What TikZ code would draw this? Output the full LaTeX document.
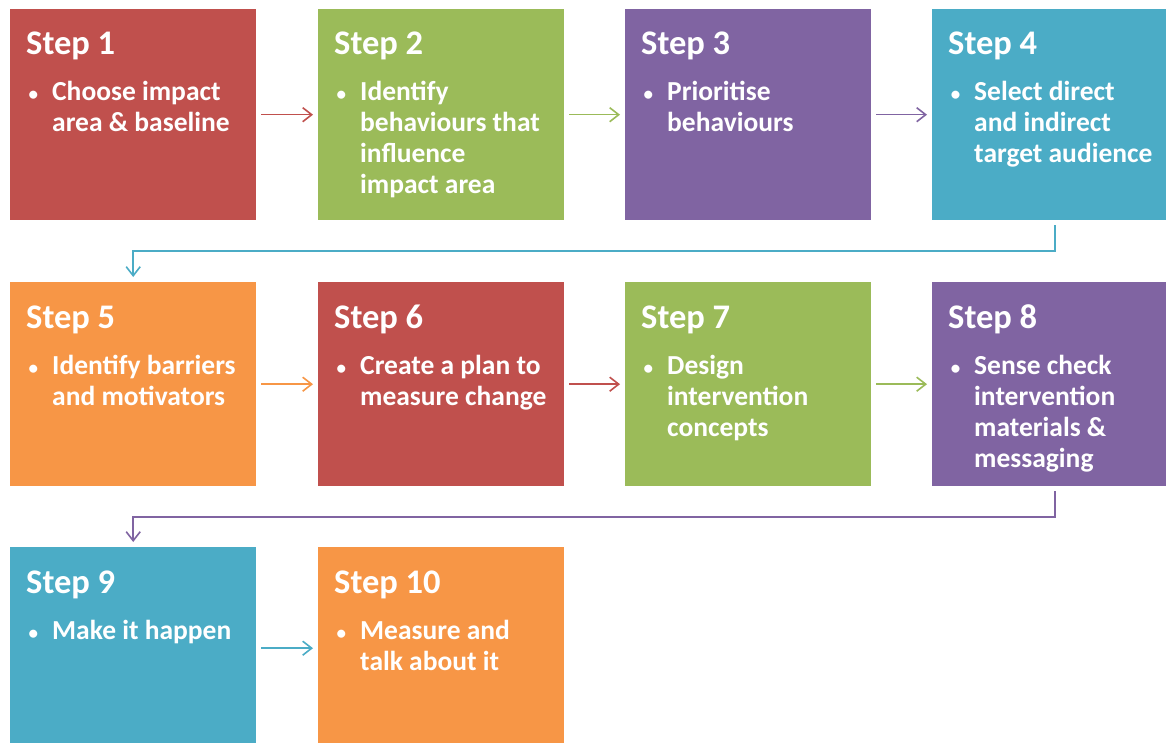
\documentclass[tikz,border=0pt]{standalone}
\usepackage{fontspec}
\setmainfont{Carlito}
\usetikzlibrary{arrows.meta,calc}

\definecolor{rojo}{HTML}{C0504D}
\definecolor{verde}{HTML}{9BBB59}
\definecolor{morado}{HTML}{8064A2}
\definecolor{azul}{HTML}{4BACC6}
\definecolor{naranja}{HTML}{F79646}

\tikzset{
	caja/.style={anchor=north west, minimum width=246pt, minimum height=211pt, inner sep=0pt},
	titulo/.style={anchor=base west, inner sep=0pt, text=white, font=\fontsize{34.5}{40}\selectfont\bfseries},
	texto/.style={anchor=base west, inner sep=0pt, text=white, font=\fontsize{27.5}{31}\selectfont\bfseries},
	flecha/.style={line width=1.6pt, -{Straight Barb[length=9pt,width=14pt]}, shorten <=5pt, shorten >=5pt},
}
%vineta y renglones
\newcommand{\punto}{\llap{{\fontsize{19}{19}\selectfont\textbullet}\hspace{14pt}}}
\newcommand{\renglones}[1]{\begin{tabular}[t]{@{}l@{}}#1\end{tabular}}

\begin{document}
\begin{tikzpicture}[x=1pt,y=-1pt]
		\clip (0,0) rectangle (1166,743);
		\fill[white] (0,0) rectangle (1166,743);
		%cajas
		\node[caja, fill=rojo] at (10,9) (paso1) {};
		\node[caja, fill=verde] at (318,9) (paso2) {};
		\node[caja, fill=morado] at (625,9) (paso3) {};
		\node[caja, fill=azul] at (932,9) (paso4) {};
		\node[caja, fill=naranja, minimum height=204pt] at (10,282) (paso5) {};
		\node[caja, fill=rojo, minimum height=204pt] at (318,282) (paso6) {};
		\node[caja, fill=verde, minimum height=204pt] at (625,282) (paso7) {};
		\node[caja, fill=morado, minimum height=204pt] at (932,282) (paso8) {};
		\node[caja, fill=azul, minimum height=202pt] at (10,547) (paso9) {};
		\node[caja, fill=naranja, minimum height=202pt] at (318,547) (paso10) {};

		%titulos
		\node[titulo] at ($(paso1.north west)+(16,46)$) (t1) {Step 1};
		\node[titulo] at ($(paso2.north west)+(16,46)$) (t2) {Step 2};
		\node[titulo] at ($(paso3.north west)+(16,46)$) (t3) {Step 3};
		\node[titulo] at ($(paso4.north west)+(16,46)$) (t4) {Step 4};
		\node[titulo] at ($(paso5.north west)+(16,46)$) (t5) {Step 5};
		\node[titulo] at ($(paso6.north west)+(16,46)$) (t6) {Step 6};
		\node[titulo] at ($(paso7.north west)+(16,46)$) (t7) {Step 7};
		\node[titulo] at ($(paso8.north west)+(16,46)$) (t8) {Step 8};
		\node[titulo] at ($(paso9.north west)+(16,46)$) (t9) {Step 9};
		\node[titulo] at ($(paso10.north west)+(16,46)$) (t10) {Step 10};

		%textos
		\node[texto] at ($(paso1.north west)+(42,92)$) (c1) {\renglones{\punto Choose impact\\area \& baseline}};
		\node[texto] at ($(paso2.north west)+(42,92)$) (c2) {\renglones{\punto Identify\\behaviours that\\influence\\impact area}};
		\node[texto] at ($(paso3.north west)+(42,92)$) (c3) {\renglones{\punto Prioritise\\behaviours}};
		\node[texto] at ($(paso4.north west)+(42,92)$) (c4) {\renglones{\punto Select direct\\and indirect\\target audience}};
		\node[texto] at ($(paso5.north west)+(42,92)$) (c5) {\renglones{\punto Identify barriers\\and motivators}};
		\node[texto] at ($(paso6.north west)+(42,92)$) (c6) {\renglones{\punto Create a plan to\\measure change}};
		\node[texto] at ($(paso7.north west)+(42,92)$) (c7) {\renglones{\punto Design\\intervention\\concepts}};
		\node[texto] at ($(paso8.north west)+(42,92)$) (c8) {\renglones{\punto Sense check\\intervention\\materials \&\\messaging}};
		\node[texto] at ($(paso9.north west)+(42,92)$) (c9) {\renglones{\punto Make it happen}};
		\node[texto] at ($(paso10.north west)+(42,92)$) (c10) {\renglones{\punto Measure and\\talk about it}};

		%flechas
		\draw [flecha, rojo] (paso1.east) -- (paso2.west);
		\draw [flecha, verde] (paso2.east) -- (paso3.west);
		\draw [flecha, morado] (paso3.east) -- (paso4.west);
		\draw [flecha, naranja] (paso5.east) -- (paso6.west);
		\draw [flecha, rojo] (paso6.east) -- (paso7.west);
		\draw [flecha, verde] (paso7.east) -- (paso8.west);
		\draw [flecha, azul] (paso9.east) -- (paso10.west);

		%saltos de fila
		\coordinate (m45) at ($(paso4.south)!.5!(paso5.north)$);
		\coordinate (m89) at ($(paso8.south)!.5!(paso9.north)$);
		\draw [flecha, azul] (paso4.south) |- (m45) -| (paso5.north);
		\draw [flecha, morado] (paso8.south) |- (m89) -| (paso9.north);
\end{tikzpicture}
\end{document}
